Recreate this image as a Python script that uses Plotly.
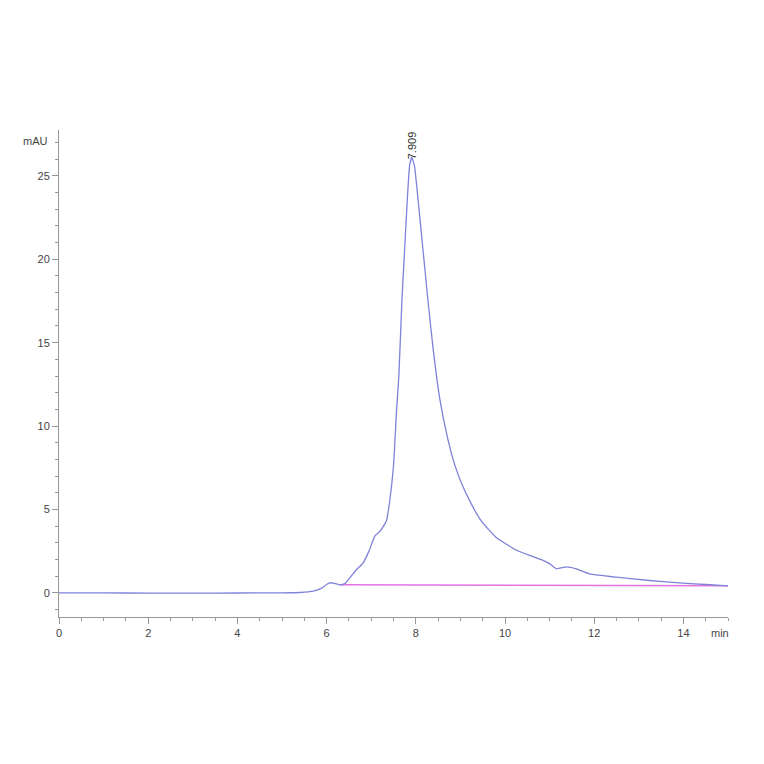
import plotly.graph_objects as go

# chromatogram (min, mAU)
time_min = [0, 1, 2, 3, 4, 5, 5.4, 5.7, 5.9, 6.0, 6.07, 6.15, 6.29, 6.41, 6.55,
            6.67, 6.82, 6.95, 7.08, 7.2, 7.34, 7.41, 7.5, 7.57, 7.62, 7.69,
            7.75, 7.81, 7.86, 7.91, 7.97, 8.05, 8.16, 8.27, 8.39, 8.54, 8.72,
            8.87, 9.02, 9.25, 9.47, 9.81, 10.26, 10.6, 10.85, 11.0, 11.15,
            11.38, 11.6, 11.9, 12.5, 13.24, 13.99, 14.5, 15.0]
signal_mau = [0, 0, -0.02, -0.02, -0.01, 0, 0.02, 0.1, 0.3, 0.5, 0.6, 0.58, 0.48,
              0.55, 1.0, 1.38, 1.8, 2.5, 3.4, 3.7, 4.3, 5.4, 7.6, 11, 13, 17.6,
              20.6, 23.6, 25.6, 26.1, 25.6, 23.6, 20.6, 17.6, 14.6, 11.6, 9.2,
              7.7, 6.6, 5.3, 4.3, 3.3, 2.55, 2.2, 1.95, 1.75, 1.44, 1.56, 1.44,
              1.14, 0.94, 0.74, 0.58, 0.5, 0.42]

# integration baseline
base_time = [6.29, 15.0]
base_mau = [0.48, 0.43]

peak_time = 7.909
peak_label = "7.909"

x_ticks = [0, 2, 4, 6, 8, 10, 12, 14]
y_ticks = [0, 5, 10, 15, 20, 25]

fig = go.Figure()
fig.add_trace(go.Scatter(x=base_time, y=base_mau, mode="lines",
                         line=dict(color="#e673e6", width=1.5)))
fig.add_trace(go.Scatter(x=time_min, y=signal_mau, mode="lines",
                         line=dict(color="#7f82d8", width=1.3, shape="spline", smoothing=0.4)))

axis_font = dict(family="Liberation Sans, Arial", size=11, color="#444")

fig.update_layout(
    width=764, height=764,
    margin=dict(l=51, r=44, t=122, b=155),
    paper_bgcolor="white", plot_bgcolor="white",
    showlegend=False,
    xaxis=dict(range=[0, 15], tickvals=x_ticks, showgrid=False, zeroline=False,
               showline=True, linecolor="#999", linewidth=1,
               ticks="outside", ticklen=6, tickcolor="#999", tickfont=axis_font,
               minor=dict(dtick=0.5, ticks="outside", ticklen=3, tickcolor="#999")),
    yaxis=dict(range=[-1.45, 27.75], tickvals=y_ticks, showgrid=False, zeroline=False,
               showline=True, linecolor="#999", linewidth=1,
               ticks="outside", ticklen=6, tickcolor="#999", tickfont=axis_font,
               minor=dict(dtick=1, ticks="outside", ticklen=3, tickcolor="#999")),
    annotations=[
        dict(x=peak_time, y=26.1, text=peak_label, textangle=-90, showarrow=False,
             xanchor="center", yanchor="bottom", yshift=-4,
             font=dict(family="Liberation Sans, Arial", size=11, color="#333")),
        dict(xref="paper", yref="paper", x=-0.014, y=0.977, text="mAU",
             showarrow=False, xanchor="right", yanchor="middle", font=axis_font),
        dict(xref="paper", yref="paper", x=0.988, y=-0.033, text="min",
             showarrow=False, xanchor="center", yanchor="middle", font=axis_font),
    ],
)

fig.write_html("out.html")
